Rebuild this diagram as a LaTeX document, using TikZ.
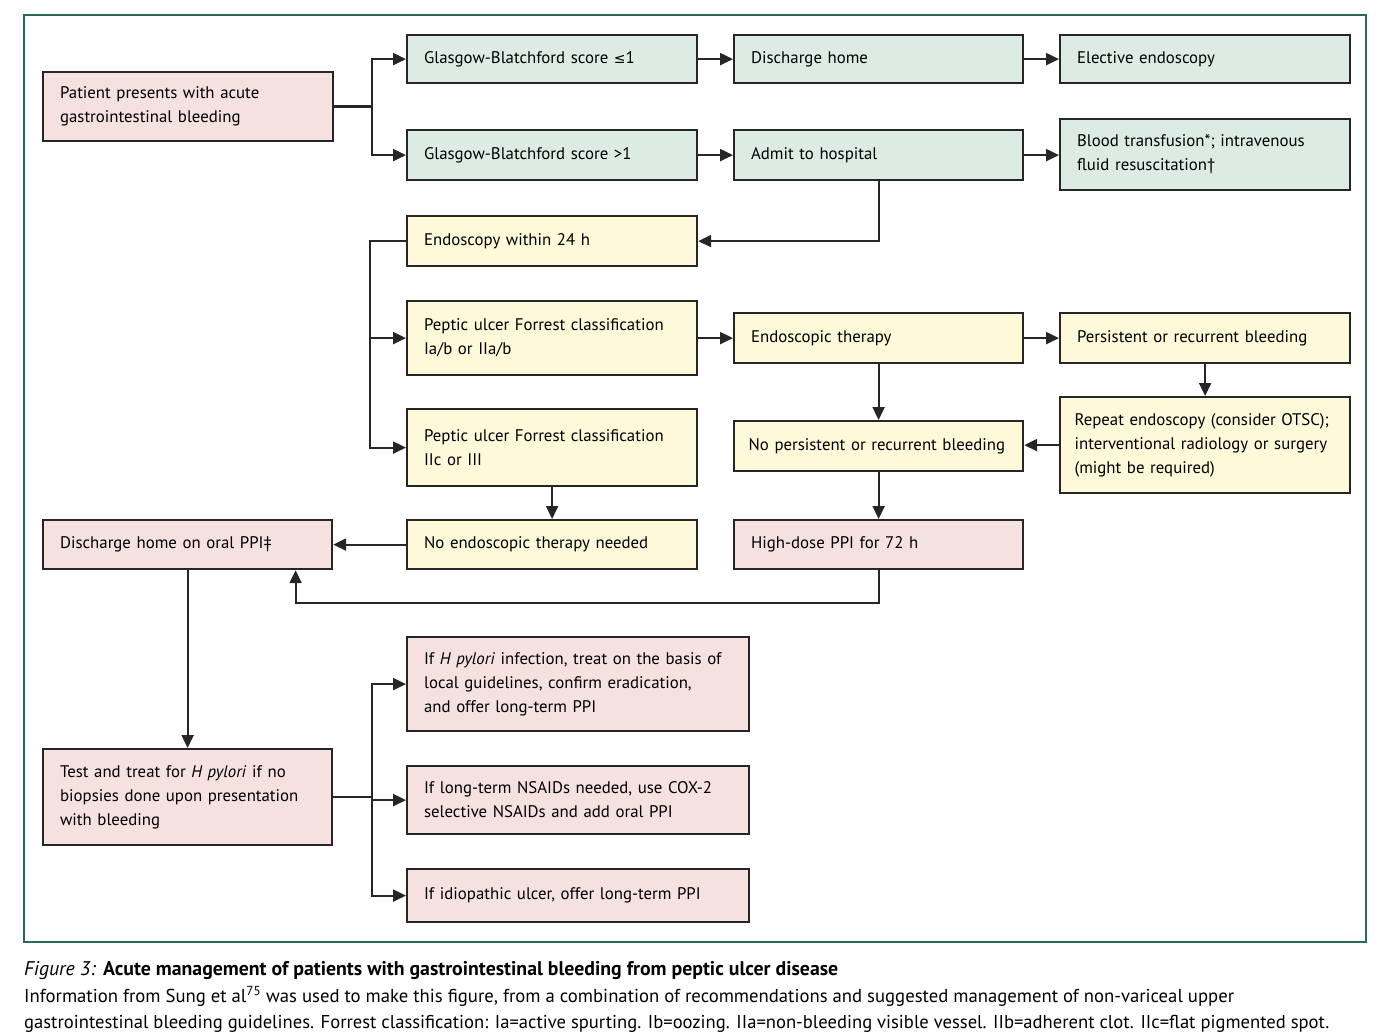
\documentclass[tikz,border=0pt]{standalone}
\usepackage{fontspec}
\setmainfont{PT Sans}
\newfontfamily\symfont{DejaVu Sans}
\usetikzlibrary{arrows.meta}
\definecolor{pinkf}{HTML}{F5E1DF}
\definecolor{greenf}{HTML}{DDEBE5}
\definecolor{yellowf}{HTML}{FEF9D8}
\definecolor{framec}{HTML}{2B6A52}
\begin{document}
\begin{tikzpicture}[x=1pt,y=-1pt,
  bx/.style={draw=black!85, line width=2.2pt, anchor=north west, align=left,
    inner xsep=17pt, inner ysep=2pt, font=\fontsize{16.8}{24}\selectfont},
  pk/.style={bx, fill=pinkf},
  gr/.style={bx, fill=greenf},
  yl/.style={bx, fill=yellowf},
  conn/.style={line width=2.2pt, draw=black!85, line cap=rect},
  arr/.style={conn, -{Triangle[length=13pt,width=12pt]}}]
\useasboundingbox (0,0) rectangle (1397,1035);
\draw[framec, line width=1.3pt] (24,15) rectangle (1366,942);

% row 1
\node[pk, minimum width=290pt, minimum height=69pt, text width=256pt] (pat) at (42,71) {Patient presents with acute\\gastrointestinal bleeding};
\node[gr, minimum width=290pt, minimum height=48pt, text width=256pt] (gb1) at (406,34) {Glasgow-Blatchford score {\symfont\fontsize{14}{24}\selectfont ≤}1};
\node[gr, minimum width=289pt, minimum height=48pt, text width=255pt] (dh) at (733,34) {Discharge home};
\node[gr, minimum width=290pt, minimum height=48pt, text width=256pt] (ee) at (1059,34) {Elective endoscopy};
\node[gr, minimum width=290pt, minimum height=50pt, text width=256pt] (gb2) at (406,129) {Glasgow-Blatchford score >1};
\node[gr, minimum width=289pt, minimum height=50pt, text width=255pt] (ah) at (733,129) {Admit to hospital};
\node[gr, minimum width=290pt, minimum height=71pt, text width=256pt] (bt) at (1059,118) {Blood transfusion*; intravenous\\fluid resuscitation†};

% endoscopy
\node[yl, minimum width=290pt, minimum height=50pt, text width=256pt] (e24) at (406,215) {Endoscopy within 24 h};
\node[yl, minimum width=290pt, minimum height=74pt, text width=256pt] (pu1) at (406,300) {Peptic ulcer Forrest classification\\Ia/b or IIa/b};
\node[yl, minimum width=289pt, minimum height=50pt, text width=255pt] (et) at (733,312) {Endoscopic therapy};
\node[yl, minimum width=290pt, minimum height=50pt, text width=256pt] (pr) at (1059,312) {Persistent or recurrent bleeding};
\node[yl, minimum width=290pt, minimum height=77pt, text width=256pt] (pu2) at (406,408) {Peptic ulcer Forrest classification\\IIc or III};
\node[yl, minimum width=289pt, minimum height=50pt, text width=270pt, inner xsep=9.5pt] (np) at (733,420) {\hspace*{5pt}No persistent or recurrent bleeding};
\node[yl, minimum width=290pt, minimum height=96pt, text width=271pt, inner xsep=9.5pt] (re) at (1059,396) {\hspace*{5pt}\parbox[t]{266pt}{Repeat endoscopy (consider OTSC);\\interventional radiology or surgery\\(might be required)}};

% row discharge
\node[pk, minimum width=289pt, minimum height=49pt, text width=255pt] (dp) at (42,519) {Discharge home on oral PPI‡};
\node[yl, minimum width=290pt, minimum height=49pt, text width=256pt] (ne) at (406,519) {No endoscopic therapy needed};
\node[pk, minimum width=289pt, minimum height=49pt, text width=255pt] (hd) at (733,519) {High-dose PPI for 72 h};

% bottom
\node[pk, minimum width=342pt, minimum height=94pt, text width=308pt] (hp) at (406,636) {If \textit{H pylori} infection, treat on the basis of\\local guidelines, confirm eradication,\\and offer long-term PPI};
\node[pk, minimum width=289pt, minimum height=96pt, text width=255pt] (tt) at (42,748) {Test and treat for \textit{H pylori} if no\\biopsies done upon presentation\\with bleeding};
\node[pk, minimum width=342pt, minimum height=68pt, text width=308pt] (ns) at (406,765) {If long-term NSAIDs needed, use COX-2\\selective NSAIDs and add oral PPI};
\node[pk, minimum width=342pt, minimum height=53pt, text width=308pt] (id) at (406,868) {If idiopathic ulcer, offer long-term PPI};

% connectors
\coordinate (b1) at ([xshift=38pt]pat.east);
\draw[conn] (pat.east) -- (b1);
\draw[arr] (b1) |- (gb1.west);
\draw[arr] (b1) |- (gb2.west);
\draw[arr] (gb1) -- (dh);
\draw[arr] (dh) -- (ee);
\draw[arr] (gb2) -- (ah);
\draw[arr] (ah.east) -- (bt.west |- ah.east);
\draw[arr] (ah.south) |- (e24.east);
\coordinate (b2) at ([xshift=-36pt]e24.west);
\draw[conn] (e24.west) -- (b2);
\draw[arr] (b2) |- (pu1.west);
\draw[arr] (b2) |- (pu2.west);
\draw[arr] (pu1.east) -- (et.west |- pu1.east);
\draw[arr] (et) -- (pr);
\draw[arr] (pr.south) -- (re.north);
\draw[arr] (re.west) -- (np.east |- re.west);
\draw[arr] (et.south) -- (np.north);
\draw[arr] (np.south) -- (hd.north);
\draw[arr] (pu2.south) -- (ne.north);
\draw[arr] (ne.west) -- (dp.east);
\draw[arr] (hd.south) -- ++(0,33) -| ([xshift=108pt]dp.south);
\draw[arr] (dp.south) -- (tt.north);
\coordinate (b3) at ([xshift=39pt]tt.east);
\draw[conn] (tt.east) -- (b3);
\draw[arr] (b3) |- (hp.west);
\draw[arr] (b3) |- (ns.west);
\draw[arr] (b3) |- (id.west);

% caption
\node[anchor=base west, inner sep=0pt, font=\fontsize{19.8}{22}\selectfont] (cap1) at (24,975) {\textit{Figure 3:} \textbf{Acute management of patients with gastrointestinal bleeding from peptic ulcer disease}};
\node[anchor=base west, inner sep=0pt, font=\fontsize{18.7}{22}\selectfont] (cap2) at (24,1002) {Information from Sung et al\textsuperscript{75} was used to make this figure, from a combination of recommendations and suggested management of non-variceal upper};
\node[anchor=base west, inner sep=0pt, font=\fontsize{18.6}{22}\selectfont] (cap3) at (24,1028) {gastrointestinal bleeding guidelines. Forrest classification: Ia=active spurting. Ib=oozing. IIa=non-bleeding visible vessel. IIb=adherent clot. IIc=flat pigmented spot.};
\end{tikzpicture}
\end{document}
